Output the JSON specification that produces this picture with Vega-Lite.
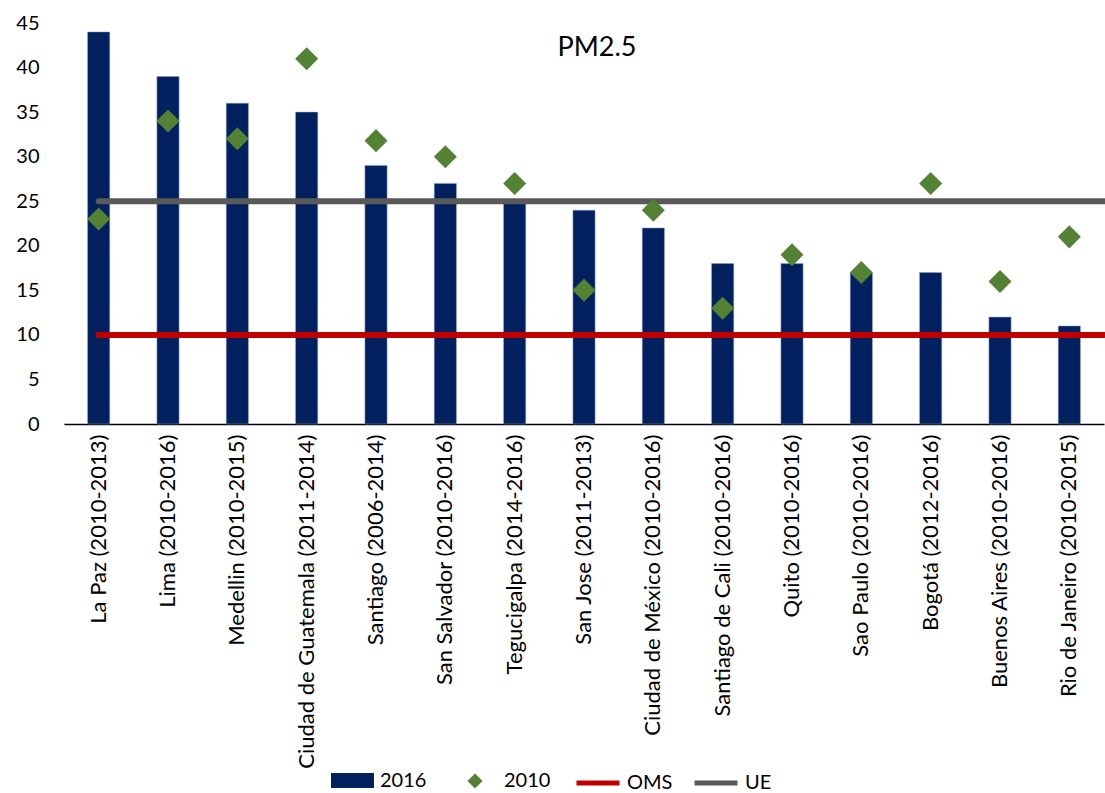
{
  "$schema": "https://vega.github.io/schema/vega-lite/v6.json",
  "width": 1040,
  "height": 401,
  "padding": {"left": 15, "top": 13, "right": 0, "bottom": 0},
  "autosize": {"type": "pad"},
  "background": "white",
  "config": {"font": "Lato", "view": {"stroke": null}},
  "title": {"text": "PM2.5", "fontSize": 27, "fontWeight": "normal", "offset": -49, "dx": 13, "color": "black", "font": "Lato"},
  "datasets": {
    "cities": [
      {"city": "La Paz (2010-2013)", "v2016": 44, "v2010": 23},
      {"city": "Lima (2010-2016)", "v2016": 39, "v2010": 34},
      {"city": "Medellin (2010-2015)", "v2016": 36, "v2010": 32},
      {"city": "Ciudad de Guatemala (2011-2014)", "v2016": 35, "v2010": 41},
      {"city": "Santiago (2006-2014)", "v2016": 29, "v2010": 31.8},
      {"city": "San Salvador (2010-2016)", "v2016": 27, "v2010": 30},
      {"city": "Tegucigalpa (2014-2016)", "v2016": 25, "v2010": 27},
      {"city": "San Jose (2011-2013)", "v2016": 24, "v2010": 15},
      {"city": "Ciudad de México (2010-2016)", "v2016": 22, "v2010": 24},
      {"city": "Santiago de Cali (2010-2016)", "v2016": 18, "v2010": 13},
      {"city": "Quito (2010-2016)", "v2016": 18, "v2010": 19},
      {"city": "Sao Paulo (2010-2016)", "v2016": 17, "v2010": 17},
      {"city": "Bogotá (2012-2016)", "v2016": 17, "v2010": 27},
      {"city": "Buenos Aires (2010-2016)", "v2016": 12, "v2010": 16},
      {"city": "Rio de Janeiro (2010-2015)", "v2016": 11, "v2010": 21}
    ],
    "refs": [
      {"serie": "OMS", "value": 10},
      {"serie": "UE", "value": 25}
    ]
  },
  "encoding": {
    "x": {
      "field": "city", "type": "nominal", "sort": null,
      "scale": {"paddingInner": 0.68, "paddingOuter": 0.34},
      "axis": {"title": null, "labelAngle": -90, "labelFontSize": 22, "labelColor": "black", "labelPadding": 10, "ticks": false, "domainColor": "black", "domainWidth": 1.5, "labelLimit": 400}
    }
  },
  "layer": [
    {
      "data": {"name": "cities"},
      "mark": {"type": "bar", "stroke": "#8fa2c9", "strokeWidth": 0.5},
      "encoding": {
        "y": {"field": "v2016", "type": "quantitative", "scale": {"domain": [0, 45], "nice": false},
          "axis": {"title": null, "values": [0, 5, 10, 15, 20, 25, 30, 35, 40, 45], "labelFontSize": 20, "labelColor": "black", "labelPadding": 25, "domain": false, "ticks": false, "grid": false}},
        "color": {
          "datum": "2016", "type": "nominal", "title": null,
          "scale": {"domain": ["2016"], "range": ["#03215F"]},
          "legend": {
            "orient": "none", "legendX": 267, "legendY": 736, "title": null,
            "labelFontSize": 20, "labelColor": "black", "labelOffset": 6,
            "symbolType": "M-1,-0.35H1V0.35H-1Z", "symbolSize": 1849, "symbolStrokeWidth": 0
          }
        }
      }
    },
    {
      "data": {"name": "refs"},
      "mark": {"type": "rule", "strokeWidth": 6, "strokeCap": "round"},
      "encoding": {
        "x": {"datum": "La Paz (2010-2013)", "bandPosition": 0.5},
        "x2": {"datum": "Rio de Janeiro (2010-2015)", "bandPosition": 2.08},
        "y": {"field": "value", "type": "quantitative"},
        "stroke": {
          "field": "serie", "type": "nominal", "title": null,
          "scale": {"domain": ["OMS", "UE"], "range": ["#C00000", "#595959"]},
          "legend": {
            "orient": "none", "legendX": 510, "legendY": 736, "direction": "horizontal", "title": null,
            "labelFontSize": 20, "labelColor": "black", "labelOffset": 5,
            "symbolType": "stroke", "symbolSize": 1849, "symbolStrokeWidth": 5, "columnPadding": 11
          }
        }
      }
    },
    {
      "data": {"name": "cities"},
      "mark": {"type": "point", "shape": "diamond", "filled": true, "size": 530, "opacity": 1, "color": "#548235"},
      "encoding": {
        "y": {"field": "v2010", "type": "quantitative"},
        "shape": {
          "datum": "2010", "type": "nominal", "title": null,
          "scale": {"domain": ["2010"], "range": ["diamond"]},
          "legend": {
            "orient": "none", "legendX": 401, "legendY": 748, "title": null,
            "labelFontSize": 20, "labelColor": "black", "labelOffset": 19,
            "symbolSize": 230, "symbolStrokeWidth": 0, "symbolFillColor": "#548235", "symbolOpacity": 1
          }
        }
      }
    }
  ]
}
